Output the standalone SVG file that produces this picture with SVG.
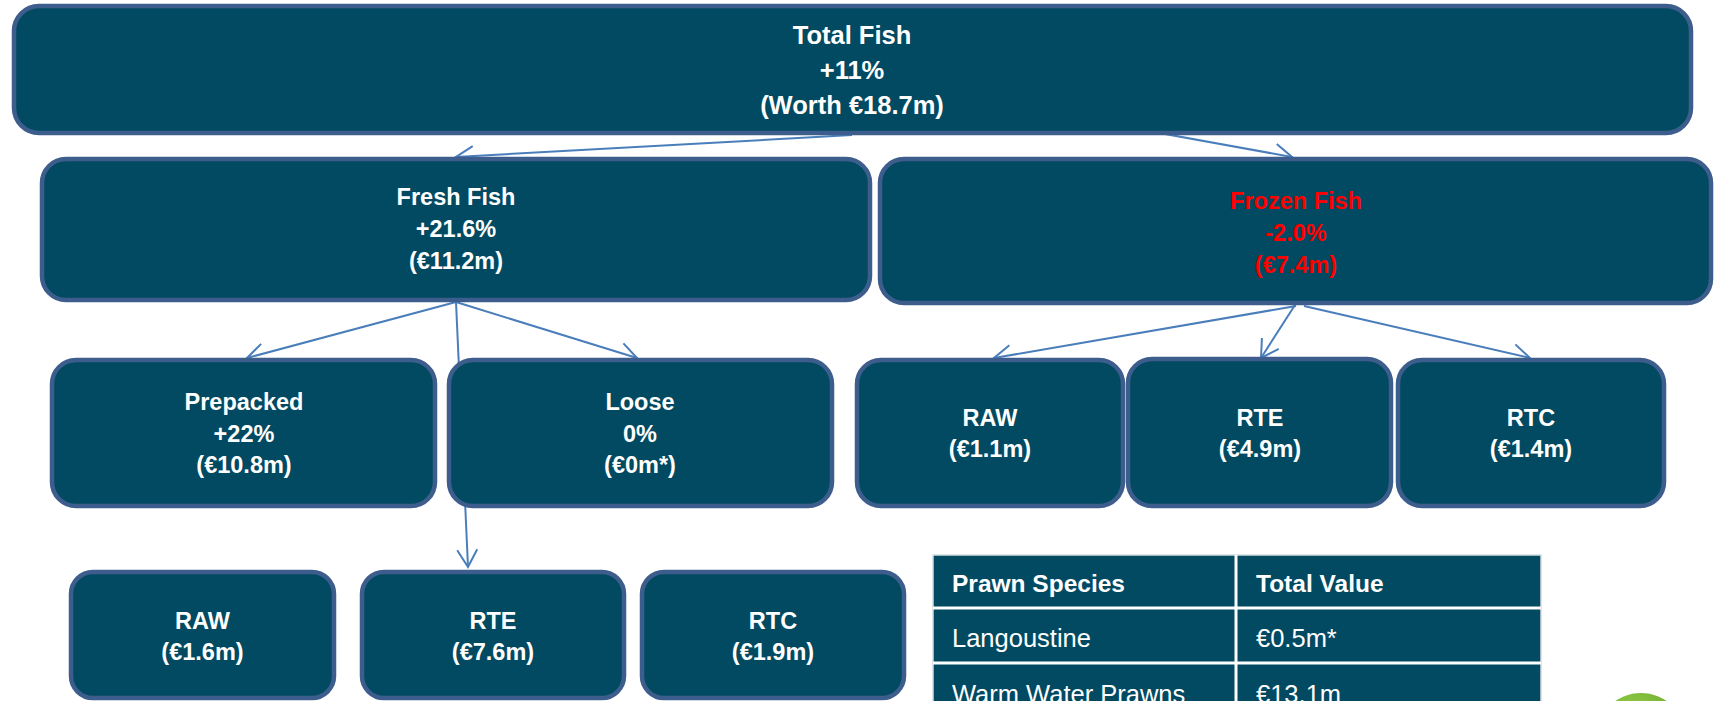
<svg xmlns="http://www.w3.org/2000/svg" width="1719" height="701" viewBox="0 0 1719 701">
<style>
.box{fill:#014a62;stroke:#3d5e8c;stroke-width:4.5}
.t{font-family:"Liberation Sans",Arial,sans-serif;font-weight:bold;fill:#ffffff;text-anchor:middle}
.big{font-size:25.5px}
.mid{font-size:23.5px}
.red{fill:#ff0000}
.conn{fill:none;stroke:#4a7ebb;stroke-width:2;marker-end:url(#arr)}
.th{font-family:"Liberation Sans",Arial,sans-serif;font-weight:bold;font-size:24.5px;fill:#ffffff}
.td{font-family:"Liberation Sans",Arial,sans-serif;font-size:25.5px;fill:#ffffff}
.grid{stroke:#ffffff;stroke-width:3}
</style>
<defs>
<marker id="arr" markerUnits="userSpaceOnUse" viewBox="-20 -12 22 24" markerWidth="22" markerHeight="24" refX="0" refY="0" orient="auto" overflow="visible">
<path d="M-17.3,-10 L0,0 L-17.3,10" fill="none" stroke="#4a7ebb" stroke-width="2"/>
</marker>
<radialGradient id="g" cx="0.4" cy="0.3" r="0.7">
<stop offset="0" stop-color="#9ccf4a"/>
<stop offset="1" stop-color="#5ea42a"/>
</radialGradient>
</defs>
<rect width="1719" height="701" fill="#ffffff"/>
<g id="connectors">
<line class="conn" x1="852" y1="135" x2="456" y2="157"/>
<line class="conn" x1="1000" y1="104" x2="1292" y2="157"/>
<line class="conn" x1="456" y1="302" x2="247" y2="358"/>
<line class="conn" x1="456" y1="302" x2="637" y2="358"/>
<line class="conn" x1="456" y1="302" x2="468" y2="567"/>
<line class="conn" x1="1296" y1="306" x2="994" y2="358"/>
<line class="conn" x1="1295" y1="305" x2="1261" y2="358"/>
<line class="conn" x1="1304" y1="306" x2="1530" y2="358"/>
</g>
<g id="total">
<rect class="box" x="14" y="6" width="1677" height="127" rx="25"/>
<text class="t big" x="852" y="44">Total Fish</text>
<text class="t big" x="852" y="79">+11%</text>
<text class="t big" x="852" y="114">(Worth €18.7m)</text>
</g>
<g id="fresh">
<rect class="box" x="42" y="159" width="828" height="141" rx="24"/>
<text class="t mid" x="456" y="205">Fresh Fish</text>
<text class="t mid" x="456" y="237">+21.6%</text>
<text class="t mid" x="456" y="269">(€11.2m)</text>
</g>
<g id="frozen">
<rect class="box" x="880" y="159" width="831" height="144" rx="24"/>
<text class="t mid red" x="1296" y="209">Frozen Fish</text>
<text class="t mid red" x="1296" y="241">-2.0%</text>
<text class="t mid red" x="1296" y="273">(€7.4m)</text>
</g>
<g id="prepacked">
<rect class="box" x="52" y="360" width="383" height="146" rx="24"/>
<text class="t mid" x="244" y="410">Prepacked</text>
<text class="t mid" x="244" y="442">+22%</text>
<text class="t mid" x="244" y="473">(€10.8m)</text>
</g>
<g id="loose">
<rect class="box" x="449" y="360" width="383" height="146" rx="24"/>
<text class="t mid" x="640" y="410">Loose</text>
<text class="t mid" x="640" y="442">0%</text>
<text class="t mid" x="640" y="473">(€0m*)</text>
</g>
<g id="frozen-raw">
<rect class="box" x="857" y="360" width="266" height="146" rx="24"/>
<text class="t mid" x="990" y="426">RAW</text>
<text class="t mid" x="990" y="457">(€1.1m)</text>
</g>
<g id="frozen-rte">
<rect class="box" x="1128" y="359" width="263" height="147" rx="24"/>
<text class="t mid" x="1260" y="426">RTE</text>
<text class="t mid" x="1260" y="457">(€4.9m)</text>
</g>
<g id="frozen-rtc">
<rect class="box" x="1398" y="360" width="266" height="146" rx="24"/>
<text class="t mid" x="1531" y="426">RTC</text>
<text class="t mid" x="1531" y="457">(€1.4m)</text>
</g>
<g id="fresh-raw">
<rect class="box" x="71" y="572" width="263" height="126" rx="22"/>
<text class="t mid" x="202.5" y="629">RAW</text>
<text class="t mid" x="202.5" y="660">(€1.6m)</text>
</g>
<g id="fresh-rte">
<rect class="box" x="362" y="572" width="262" height="126" rx="22"/>
<text class="t mid" x="493" y="629">RTE</text>
<text class="t mid" x="493" y="660">(€7.6m)</text>
</g>
<g id="fresh-rtc">
<rect class="box" x="642" y="572" width="262" height="126" rx="22"/>
<text class="t mid" x="773" y="629">RTC</text>
<text class="t mid" x="773" y="660">(€1.9m)</text>
</g>
<g id="prawn-table">
<rect x="933" y="555" width="608" height="160" fill="#014a62" stroke="#d4dde2" stroke-width="1.5"/>
<line class="grid" x1="933" y1="608" x2="1541" y2="608"/>
<line class="grid" x1="933" y1="663" x2="1541" y2="663"/>
<line class="grid" x1="1236" y1="555" x2="1236" y2="715"/>
<text class="th" x="952" y="592">Prawn Species</text>
<text class="th" x="1256" y="592">Total Value</text>
<text class="td" x="952" y="647">Langoustine</text>
<text class="td" x="1256" y="647">€0.5m*</text>
<text class="td" x="952" y="703">Warm Water Prawns</text>
<text class="td" x="1256" y="703">€13.1m</text>
</g>
<circle cx="1641" cy="738" r="45" fill="url(#g)"/>
</svg>
